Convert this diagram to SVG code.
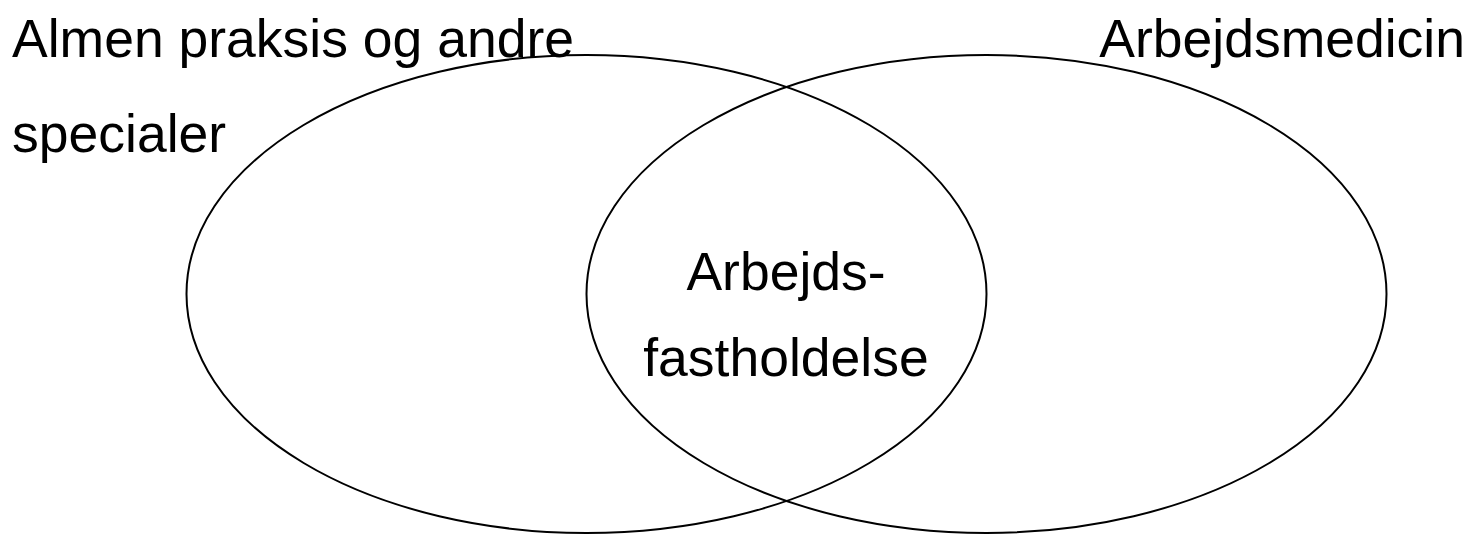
<svg xmlns="http://www.w3.org/2000/svg" width="1472" height="534" viewBox="0 0 1472 534">
<style>
.e{fill:none;stroke:#000;stroke-width:2}
.t{font-family:"Liberation Sans",Arial,sans-serif;font-size:53.5px;fill:#000}
</style>
<rect width="1472" height="534" fill="#fff"/>
<g id="left">
<ellipse class="e" cx="586.5" cy="294" rx="400" ry="239"/>
<text class="t" x="12" y="57">Almen praksis og andre</text>
<text class="t" x="12" y="152">specialer</text>
</g>
<g id="right">
<ellipse class="e" cx="986.5" cy="294" rx="400" ry="239"/>
<text class="t" x="1465" y="57" text-anchor="end">Arbejdsmedicin</text>
</g>
<g id="overlap">
<text class="t" x="786" y="290" text-anchor="middle">Arbejds-</text>
<text class="t" x="786" y="376" text-anchor="middle">fastholdelse</text>
</g>
<g id="connectors"/>
</svg>
